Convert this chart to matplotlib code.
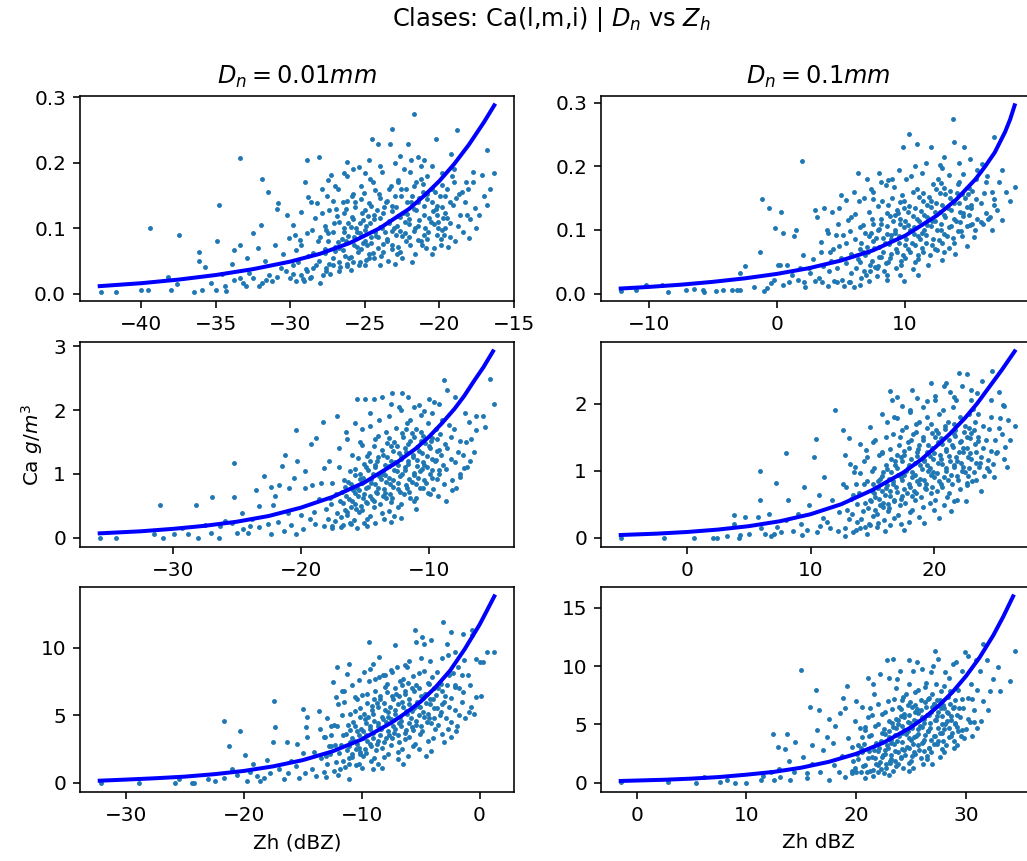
import numpy as np
import matplotlib
matplotlib.use("Agg")
import matplotlib.pyplot as plt

# ---- scatter points (Zh dBZ, Ca g/m3) ----
pts_a = [
    (-29.8, 0.030), (-29.5, 0.048), (-29.65, 0.066), (-29.35, 0.082),
    (-29.15, 0.022), (-28.95, 0.038), (-28.8, 0.058), (-29.25, 0.074), (-28.85, 0.092),
    (-28.6, 0.026), (-28.3, 0.044), (-28.45, 0.062), (-28.15, 0.080), (-28.55, 0.098), (-28.35, 0.116),
    (-27.6, 0.034), (-28.05, 0.050), (-27.65, 0.068), (-28.0, 0.086), (-27.7, 0.104), (-27.85, 0.124), (-27.55, 0.150),
    (-27.35, 0.030), (-27.15, 0.054), (-27.0, 0.072), (-27.45, 0.092), (-27.05, 0.108), (-27.4, 0.128), (-27.1, 0.142),
    (-26.65, 0.040), (-26.35, 0.058), (-26.75, 0.070), (-26.55, 0.084), (-26.4, 0.100), (-26.85, 0.118), (-26.45, 0.140), (-26.8, 0.160),
    (-25.9, 0.036), (-26.05, 0.054), (-25.75, 0.074), (-26.15, 0.088), (-25.95, 0.102), (-25.8, 0.114), (-26.25, 0.130), (-25.85, 0.150), (-26.2, 0.180),
    (-25.3, 0.048), (-25.45, 0.064), (-25.15, 0.078), (-25.55, 0.094), (-25.35, 0.108), (-25.2, 0.124), (-25.65, 0.140), (-25.25, 0.165),
    (-25.0, 0.044), (-24.7, 0.060), (-24.85, 0.074), (-24.55, 0.086), (-24.95, 0.098), (-24.75, 0.118), (-24.6, 0.134), (-25.05, 0.154), (-24.65, 0.176),
    (-24.4, 0.054), (-24.1, 0.070), (-24.25, 0.088), (-23.95, 0.102), (-24.35, 0.114), (-24.15, 0.128), (-24.0, 0.146), (-24.45, 0.170),
    (-23.45, 0.050), (-23.8, 0.064), (-23.5, 0.080), (-23.65, 0.094), (-23.35, 0.108), (-23.75, 0.124), (-23.55, 0.140), (-23.4, 0.160), (-23.85, 0.186),
    (-22.85, 0.060), (-23.2, 0.074), (-22.9, 0.090), (-23.05, 0.100), (-22.75, 0.118), (-23.15, 0.134), (-22.95, 0.150), (-22.8, 0.174),
    (-22.65, 0.064), (-22.25, 0.080), (-22.6, 0.096), (-22.3, 0.110), (-22.45, 0.124), (-22.15, 0.140), (-22.55, 0.160), (-22.35, 0.190),
    (-21.6, 0.060), (-22.05, 0.086), (-21.65, 0.100), (-22.0, 0.114), (-21.7, 0.130), (-21.85, 0.150), (-21.55, 0.170), (-21.95, 0.186),
    (-21.15, 0.074), (-21.0, 0.090), (-21.45, 0.104), (-21.05, 0.120), (-21.4, 0.140), (-21.1, 0.156), (-21.25, 0.176),
    (-20.35, 0.070), (-20.75, 0.094), (-20.55, 0.110), (-20.4, 0.126), (-20.85, 0.144), (-20.45, 0.160), (-20.8, 0.180),
    (-19.9, 0.084), (-20.05, 0.100), (-19.75, 0.116), (-20.15, 0.134), (-19.95, 0.150), (-19.8, 0.166),
    (-19.65, 0.090), (-19.25, 0.108), (-19.6, 0.124), (-19.3, 0.140), (-19.45, 0.160), (-19.15, 0.180),
    (-18.95, 0.080), (-18.75, 0.104), (-18.6, 0.120), (-19.05, 0.136), (-18.65, 0.152), (-19.0, 0.170),
    (-18.1, 0.120), (-18.3, 0.140), (-18.05, 0.160),
    (-39.4, 0.100), (-37.5, 0.090), (-33.4, 0.207), (-31.9, 0.175), (-31.5, 0.155), (-34.8, 0.136),
    (-34.9, 0.080), (-36.1, 0.064), (-36.1, 0.050), (-33.8, 0.067), (-33.4, 0.075), (-32.0, 0.105),
    (-32.5, 0.092), (-30.8, 0.138), (-30.9, 0.130), (-30.2, 0.120), (-29.8, 0.105), (-29.7, 0.090),
    (-29.0, 0.171), (-28.9, 0.204), (-28.8, 0.148), (-28.1, 0.209), (-28.2, 0.138), (-27.5, 0.174),
    (-27.3, 0.181), (-26.2, 0.201), (-25.4, 0.194), (-24.7, 0.204), (-24.5, 0.237), (-24.1, 0.229),
    (-23.3, 0.229), (-23.2, 0.252), (-22.1, 0.229), (-21.7, 0.275), (-21.4, 0.209), (-21.0, 0.204),
    (-20.2, 0.237), (-19.2, 0.214), (-18.8, 0.250), (-17.7, 0.171), (-16.8, 0.219), (-16.3, 0.185),
    (-16.8, 0.136), (-17.6, 0.131), (-17.9, 0.114), (-17.1, 0.181), (-17.7, 0.186), (-18.2, 0.171),
    (-18.5, 0.156), (-18.9, 0.146), (-19.4, 0.072), (-19.3, 0.087), (-19.6, 0.100), (-20.1, 0.110),
    (-20.2, 0.130), (-20.9, 0.070), (-21.2, 0.080),
    (-42.7, 0.003), (-41.7, 0.003), (-40.0, 0.005), (-39.55, 0.005), (-38.2, 0.026), (-38.0, 0.005),
    (-37.6, 0.014), (-36.5, 0.003), (-35.9, 0.005), (-35.3, 0.016), (-35.0, 0.005), (-34.4, 0.011),
    (-34.3, 0.004), (-33.8, 0.021), (-33.4, 0.024), (-33.2, 0.016), (-33.0, 0.011), (-32.8, 0.031),
    (-32.5, 0.024), (-32.1, 0.011), (-31.9, 0.016), (-31.6, 0.021), (-31.4, 0.029), (-31.2, 0.019),
    (-30.9, 0.026), (-30.6, 0.039), (-30.3, 0.034), (-30.0, 0.024), (-29.8, 0.044), (-29.6, 0.019),
    (-29.3, 0.029), (-29.1, 0.019), (-28.9, 0.034), (-28.7, 0.024), (-28.5, 0.039), (-28.0, 0.016),
    (-27.8, 0.029), (-27.6, 0.039), (-27.1, 0.044), (-26.7, 0.034), (-26.2, 0.042), (-25.8, 0.049),
    (-25.4, 0.044), (-24.7, 0.054), (-24.0, 0.044),
    (-23.0, 0.045), (-22.5, 0.055), (-21.8, 0.048), (-20.5, 0.060), (-19.9, 0.075), (-18.4, 0.095),
    (-17.5, 0.100), (-17.0, 0.150), (-16.6, 0.160), (-17.3, 0.120), (-18.0, 0.085),
    (-35.7, 0.040), (-34.6, 0.030), (-33.9, 0.045), (-32.9, 0.055), (-32.2, 0.070), (-31.7, 0.050),
    (-31.0, 0.075), (-30.5, 0.060), (-30.1, 0.085), (-29.3, 0.125), (-28.6, 0.140), (-27.9, 0.160),
    (-27.0, 0.165), (-26.4, 0.185), (-25.8, 0.190), (-25.0, 0.185), (-24.0, 0.195), (-23.0, 0.200),
    (-22.6, 0.210), (-21.9, 0.205), (-21.2, 0.195), (-20.5, 0.195), (-19.8, 0.185), (-19.0, 0.190),
]
dense_a = [
    (-27.38, 0.045), (-27.68, 0.062), (-27.45, 0.080), (-27.58, 0.097),
    (-26.7, 0.048), (-27.02, 0.065), (-26.8, 0.079), (-27.12, 0.094), (-26.74, 0.110), (-26.94, 0.130),
    (-26.18, 0.046), (-26.48, 0.066), (-26.25, 0.081), (-26.38, 0.095), (-26.1, 0.108), (-26.42, 0.123), (-26.2, 0.142),
    (-25.92, 0.056), (-25.54, 0.071), (-25.74, 0.086), (-25.58, 0.100), (-25.88, 0.117), (-25.65, 0.132), (-25.78, 0.152),
    (-24.9, 0.052), (-25.22, 0.068), (-25.0, 0.081), (-25.32, 0.092), (-24.94, 0.104), (-25.14, 0.112), (-24.98, 0.128), (-25.28, 0.145),
    (-24.45, 0.062), (-24.58, 0.078), (-24.3, 0.095), (-24.62, 0.108), (-24.4, 0.121), (-24.72, 0.138), (-24.34, 0.158),
    (-23.94, 0.058), (-23.78, 0.076), (-24.08, 0.086), (-23.85, 0.100), (-23.98, 0.116), (-23.7, 0.132), (-24.02, 0.152),
    (-23.2, 0.068), (-23.52, 0.084), (-23.14, 0.096), (-23.34, 0.111), (-23.18, 0.127), (-23.48, 0.142), (-23.25, 0.165),
    (-22.78, 0.072), (-22.5, 0.088), (-22.82, 0.104), (-22.6, 0.117), (-22.92, 0.132), (-22.54, 0.150), (-22.74, 0.170),
    (-21.98, 0.074), (-22.28, 0.093), (-22.05, 0.107), (-22.18, 0.122), (-21.9, 0.140), (-22.22, 0.160),
    (-21.4, 0.082), (-21.72, 0.096), (-21.34, 0.112), (-21.54, 0.128), (-21.38, 0.146), (-21.68, 0.164),
    (-20.85, 0.083), (-20.98, 0.100), (-20.7, 0.116), (-21.02, 0.134), (-20.8, 0.152), (-21.12, 0.168),
    (-20.14, 0.090), (-20.34, 0.106), (-20.18, 0.120), (-20.48, 0.140), (-20.25, 0.156),
    (-19.78, 0.098), (-19.5, 0.116), (-19.82, 0.132), (-19.6, 0.150),
]

pts_b = [
    (3.3, 0.025), (3.6, 0.045), (3.45, 0.065),
    (4.45, 0.020), (4.05, 0.035), (4.25, 0.052), (4.4, 0.070), (3.95, 0.095),
    (5.05, 0.022), (4.7, 0.040), (5.0, 0.056), (4.85, 0.075), (5.15, 0.092), (4.75, 0.110),
    (5.65, 0.018), (5.8, 0.032), (5.35, 0.048), (5.75, 0.062), (5.4, 0.080), (5.7, 0.098), (5.55, 0.115),
    (6.55, 0.025), (6.15, 0.040), (6.35, 0.055), (6.5, 0.070), (6.05, 0.086), (6.45, 0.104), (6.1, 0.125), (6.4, 0.145),
    (6.95, 0.030), (7.25, 0.045), (6.85, 0.060), (7.05, 0.074), (7.2, 0.090), (6.75, 0.108), (7.15, 0.128), (6.8, 0.150),
    (7.8, 0.028), (7.65, 0.042), (7.95, 0.058), (7.55, 0.072), (7.75, 0.088), (7.9, 0.100), (7.45, 0.118), (7.85, 0.138), (7.5, 0.160),
    (8.35, 0.035), (8.65, 0.050), (8.25, 0.066), (8.45, 0.080), (8.6, 0.094), (8.15, 0.110), (8.55, 0.126), (8.2, 0.146), (8.5, 0.170),
    (9.3, 0.040), (8.85, 0.056), (9.25, 0.070), (8.9, 0.086), (9.2, 0.100), (9.05, 0.114), (9.35, 0.132), (8.95, 0.150), (9.15, 0.168),
    (9.65, 0.045), (9.85, 0.060), (10.0, 0.076), (9.55, 0.090), (9.95, 0.104), (9.6, 0.118), (9.9, 0.134), (9.75, 0.155), (10.05, 0.180),
    (10.75, 0.050), (10.35, 0.066), (10.55, 0.080), (10.7, 0.094), (10.25, 0.108), (10.65, 0.122), (10.3, 0.138), (10.6, 0.160), (10.45, 0.185),
    (11.0, 0.055), (11.3, 0.072), (11.15, 0.086), (11.45, 0.100), (11.05, 0.114), (11.25, 0.130), (11.4, 0.146), (10.95, 0.164), (11.35, 0.190),
    (11.95, 0.060), (12.1, 0.076), (11.65, 0.092), (12.05, 0.106), (11.7, 0.120), (12.0, 0.136), (11.85, 0.152), (12.15, 0.172),
    (12.45, 0.068), (12.65, 0.084), (12.8, 0.100), (12.35, 0.114), (12.75, 0.128), (12.4, 0.142), (12.7, 0.158), (12.55, 0.180), (12.85, 0.198),
    (13.4, 0.072), (13.25, 0.090), (13.55, 0.106), (13.15, 0.120), (13.35, 0.134), (13.5, 0.150), (13.05, 0.166), (13.45, 0.186),
    (13.8, 0.080), (14.1, 0.098), (13.95, 0.114), (14.25, 0.128), (13.85, 0.142), (14.05, 0.158), (14.2, 0.176),
    (14.45, 0.090), (14.85, 0.106), (14.5, 0.122), (14.8, 0.136), (14.65, 0.150), (14.95, 0.166), (14.55, 0.188),
    (15.45, 0.100), (15.6, 0.118), (15.15, 0.134), (15.55, 0.148), (15.2, 0.162), (15.5, 0.180),
    (16.05, 0.110), (16.35, 0.126), (15.95, 0.142), (16.15, 0.158), (16.3, 0.176),
    (16.6, 0.120), (16.9, 0.140), (16.75, 0.160),
    (-12.2, 0.004), (-10.2, 0.013), (-9.0, 0.013), (-8.5, 0.003), (-7.1, 0.006), (-5.8, 0.006),
    (-5.7, 0.003), (-4.2, 0.006), (-3.5, 0.006), (-3.1, 0.006), (-2.9, 0.006), (-2.9, 0.032),
    (-2.5, 0.043), (-1.35, 0.066), (-1.2, 0.149), (-0.65, 0.135), (-0.13, 0.103), (0.3, 0.129),
    (0.5, 0.096), (0.05, 0.045), (0.26, 0.045), (0.8, 0.045), (-0.8, 0.009), (-0.5, 0.017),
    (-0.26, 0.022), (-1.0, 0.004), (0.5, 0.014), (0.9, 0.019), (1.3, 0.090), (1.5, 0.100),
    (1.95, 0.209), (1.2, 0.030), (1.6, 0.022), (2.1, 0.019), (2.2, 0.011), (2.6, 0.032),
    (3.0, 0.131), (3.1, 0.121), (3.4, 0.081), (3.5, 0.019), (3.6, 0.043), (3.7, 0.134),
    (4.1, 0.066), (4.3, 0.129), (4.6, 0.092), (5.0, 0.155), (5.4, 0.147), (5.8, 0.121),
    (6.3, 0.190), (7.0, 0.180), (7.5, 0.149), (8.1, 0.175), (8.7, 0.178), (9.0, 0.180),
    (9.2, 0.123), (9.8, 0.230), (10.3, 0.251), (10.9, 0.235), (12.0, 0.230), (12.7, 0.202),
    (13.8, 0.239), (13.7, 0.274), (14.6, 0.230), (15.1, 0.212), (16.0, 0.204), (16.9, 0.246),
    (17.6, 0.194), (18.6, 0.168), (16.9, 0.149), (17.2, 0.132), (16.5, 0.117), (15.4, 0.089),
    (15.1, 0.108), (15.9, 0.113), (12.9, 0.053), (13.0, 0.066), (8.6, 0.022), (8.6, 0.030),
    (7.8, 0.040), (6.5, 0.013), (5.7, 0.019), (4.7, 0.019),
    (2.8, 0.055), (2.0, 0.060), (3.9, 0.100), (4.8, 0.135), (6.0, 0.160), (7.3, 0.165),
    (8.0, 0.190), (9.5, 0.195), (10.8, 0.200), (11.6, 0.205), (13.0, 0.215), (14.2, 0.205),
    (15.6, 0.195), (16.4, 0.185), (17.3, 0.175), (17.9, 0.160), (18.2, 0.145), (17.6, 0.115),
    (16.8, 0.100), (14.8, 0.075), (13.9, 0.062), (11.8, 0.045), (10.6, 0.038), (9.6, 0.030),
    (9.9, 0.020), (11.0, 0.030), (7.2, 0.020), (6.0, 0.010), (5.2, 0.012), (4.0, 0.012),
    (3.0, 0.020), (2.5, 0.040), (1.8, 0.040), (-1.8, 0.010), (-4.8, 0.004), (-6.5, 0.008),
    (-11.0, 0.006),
]
dense_b = [
    (6.77, 0.035), (6.47, 0.050), (6.7, 0.066), (6.57, 0.080), (6.85, 0.096),
    (7.23, 0.036), (7.45, 0.052), (7.13, 0.066), (7.51, 0.082), (7.31, 0.095), (7.47, 0.110),
    (7.87, 0.044), (8.1, 0.058), (7.97, 0.074), (8.25, 0.088), (7.93, 0.102), (8.15, 0.118),
    (8.53, 0.048), (8.91, 0.062), (8.71, 0.078), (8.87, 0.092), (8.57, 0.106), (8.8, 0.122), (8.67, 0.140),
    (9.65, 0.052), (9.33, 0.066), (9.55, 0.080), (9.23, 0.096), (9.61, 0.110), (9.41, 0.126), (9.57, 0.144),
    (9.97, 0.056), (10.2, 0.070), (10.07, 0.086), (10.35, 0.100), (10.03, 0.114), (10.25, 0.128), (9.93, 0.146),
    (11.01, 0.060), (10.81, 0.076), (10.97, 0.090), (10.67, 0.104), (10.9, 0.118), (10.77, 0.134), (11.05, 0.152),
    (11.43, 0.066), (11.65, 0.080), (11.33, 0.095), (11.71, 0.108), (11.51, 0.124), (11.67, 0.140), (11.37, 0.158),
    (12.3, 0.070), (12.17, 0.086), (12.45, 0.100), (12.13, 0.114), (12.35, 0.128), (12.03, 0.146), (12.41, 0.164),
    (12.91, 0.080), (13.07, 0.094), (12.77, 0.110), (13.0, 0.124), (12.87, 0.140), (13.15, 0.156), (12.83, 0.174),
    (13.75, 0.088), (13.43, 0.104), (13.81, 0.118), (13.61, 0.132), (13.77, 0.146), (13.47, 0.162),
    (14.4, 0.098), (14.27, 0.112), (14.55, 0.126), (14.23, 0.142), (14.45, 0.156), (14.13, 0.172),
    (15.21, 0.110), (15.01, 0.124), (15.17, 0.140), (14.87, 0.156),
]

pts_c = [
    (-18.2, 0.18), (-17.9, 0.30), (-18.05, 0.45), (-17.75, 0.62),
    (-17.55, 0.15), (-17.35, 0.26), (-17.2, 0.38), (-17.65, 0.52), (-17.25, 0.68), (-17.6, 0.85),
    (-16.7, 0.20), (-16.85, 0.32), (-16.55, 0.44), (-16.95, 0.58), (-16.75, 0.72), (-16.6, 0.90), (-17.05, 1.10),
    (-16.05, 0.22), (-16.4, 0.35), (-16.1, 0.48), (-16.25, 0.60), (-15.95, 0.74), (-16.35, 0.88), (-16.15, 1.05), (-16.0, 1.30),
    (-15.85, 0.28), (-15.45, 0.40), (-15.8, 0.52), (-15.5, 0.65), (-15.65, 0.78), (-15.35, 0.92), (-15.75, 1.08), (-15.55, 1.25), (-15.4, 1.50),
    (-14.85, 0.30), (-15.2, 0.44), (-14.9, 0.56), (-15.05, 0.68), (-14.75, 0.80), (-15.15, 0.94), (-14.95, 1.10), (-14.8, 1.28), (-15.25, 1.45),
    (-14.6, 0.34), (-14.3, 0.48), (-14.45, 0.60), (-14.15, 0.72), (-14.55, 0.86), (-14.35, 1.00), (-14.2, 1.14), (-14.65, 1.32), (-14.25, 1.55), (-14.6, 1.75),
    (-13.7, 0.38), (-13.85, 0.52), (-13.55, 0.66), (-13.95, 0.78), (-13.75, 0.92), (-13.6, 1.05), (-14.05, 1.20), (-13.65, 1.38), (-14.0, 1.60),
    (-13.15, 0.42), (-13.0, 0.56), (-13.45, 0.70), (-13.05, 0.84), (-13.4, 0.98), (-13.1, 1.12), (-13.25, 1.26), (-12.95, 1.44), (-13.35, 1.65), (-13.15, 1.90),
    (-12.4, 0.48), (-12.85, 0.62), (-12.45, 0.76), (-12.8, 0.90), (-12.5, 1.04), (-12.65, 1.18), (-12.35, 1.32), (-12.75, 1.50), (-12.55, 1.72),
    (-12.15, 0.52), (-11.95, 0.68), (-11.8, 0.82), (-12.25, 0.96), (-11.85, 1.10), (-12.2, 1.24), (-11.9, 1.40), (-12.05, 1.58), (-11.75, 1.80), (-12.15, 2.00),
    (-11.15, 0.58), (-11.55, 0.72), (-11.35, 0.88), (-11.2, 1.02), (-11.65, 1.16), (-11.25, 1.30), (-11.6, 1.46), (-11.3, 1.64), (-11.45, 1.85),
    (-11.0, 0.62), (-10.7, 0.78), (-10.85, 0.94), (-10.55, 1.08), (-10.95, 1.22), (-10.75, 1.36), (-10.6, 1.52), (-11.05, 1.70), (-10.65, 1.92),
    (-10.1, 0.70), (-10.25, 0.86), (-9.95, 1.00), (-10.35, 1.14), (-10.15, 1.28), (-10.0, 1.44), (-10.45, 1.60), (-10.05, 1.80),
    (-9.65, 0.76), (-9.35, 0.92), (-9.75, 1.06), (-9.55, 1.20), (-9.4, 1.36), (-9.85, 1.52), (-9.45, 1.70), (-9.8, 1.95),
    (-8.85, 0.84), (-9.2, 1.00), (-8.9, 1.14), (-9.05, 1.30), (-8.75, 1.46), (-9.15, 1.62), (-8.95, 1.84),
    (-8.2, 0.90), (-8.65, 1.08), (-8.25, 1.24), (-8.6, 1.40), (-8.3, 1.58), (-8.45, 1.76),
    (-7.55, 1.00), (-7.95, 1.18), (-7.75, 1.34), (-7.6, 1.52), (-8.05, 1.70),
    (-7.05, 1.10), (-7.35, 1.30), (-7.1, 1.50),
    (-35.7, 0.0), (-34.4, 0.0), (-31.5, 0.05), (-31.0, 0.51), (-30.8, 0.0), (-29.9, 0.05),
    (-28.8, 0.05), (-28.2, 0.51), (-28.0, 0.0), (-27.0, 0.08), (-26.9, 0.64), (-26.4, 0.0),
    (-26.3, 0.18), (-25.9, 0.26), (-25.4, 0.23), (-25.2, 0.64), (-25.2, 1.17), (-25.0, 0.08),
    (-24.6, 0.39), (-24.5, 0.13), (-24.1, 0.08), (-24.0, 0.18), (-23.3, 0.16), (-23.3, 0.49),
    (-22.9, 0.96), (-22.6, 0.21), (-22.3, 0.05), (-22.2, 0.51), (-22.3, 0.80), (-21.7, 0.83),
    (-21.5, 1.13), (-21.3, 0.10), (-21.2, 1.30), (-21.0, 0.39), (-20.9, 0.78), (-20.5, 0.93),
    (-20.4, 0.05), (-20.3, 1.20), (-20.4, 1.69), (-19.8, 0.13), (-19.7, 0.78), (-19.7, 1.04),
    (-19.3, 0.29), (-19.2, 1.46), (-19.1, 0.83), (-18.8, 1.56), (-18.3, 1.81), (-18.2, 1.09),
    (-17.2, 1.90), (-16.5, 1.66), (-15.6, 2.17), (-15.0, 2.18), (-14.3, 2.18), (-13.7, 2.20),
    (-12.9, 2.26), (-12.1, 2.26), (-11.6, 2.20), (-10.8, 2.08), (-10.0, 2.18), (-9.2, 2.10),
    (-8.8, 2.47), (-8.6, 2.31), (-8.0, 2.20), (-6.9, 1.81), (-6.3, 1.90), (-5.8, 1.90),
    (-5.6, 1.74), (-5.2, 2.49), (-4.9, 2.10), (-6.3, 1.69), (-7.3, 1.09), (-7.9, 0.78),
    (-8.7, 0.57), (-9.9, 0.68), (-10.5, 0.78), (-11.5, 0.62), (-12.2, 0.31), (-12.7, 0.34),
    (-13.5, 0.29), (-14.2, 0.23), (-15.1, 0.23), (-16.2, 0.23), (-16.9, 0.16), (-17.6, 0.18),
    (-19.0, 0.40), (-18.6, 0.60), (-18.9, 0.22), (-18.4, 0.85), (-17.8, 1.20), (-17.0, 1.40),
    (-16.4, 1.55), (-15.8, 1.80), (-15.2, 1.70), (-14.6, 1.95), (-13.9, 1.85), (-13.0, 2.10),
    (-12.3, 2.05), (-11.2, 2.05), (-10.4, 1.98), (-9.6, 2.12), (-7.2, 1.95), (-6.7, 1.55),
    (-6.5, 1.35), (-6.8, 1.20), (-7.6, 0.95), (-8.2, 0.75), (-9.3, 0.65), (-11.0, 0.45),
    (-13.0, 0.25), (-14.8, 0.18), (-15.6, 0.15), (-23.8, 0.30), (-21.8, 0.25), (-20.8, 0.20),
    (-20.0, 0.35), (-22.0, 0.65), (-23.5, 0.75), (-27.5, 0.20), (-29.3, 0.15),
]
dense_c = [
    (-16.38, 0.40), (-16.68, 0.55), (-16.45, 0.66), (-16.58, 0.80),
    (-15.7, 0.45), (-16.02, 0.58), (-15.8, 0.70), (-16.12, 0.84), (-15.74, 0.98),
    (-15.34, 0.50), (-15.18, 0.62), (-15.48, 0.74), (-15.25, 0.86), (-15.38, 1.00), (-15.1, 1.16),
    (-14.82, 0.54), (-14.6, 0.66), (-14.92, 0.78), (-14.54, 0.92), (-14.74, 1.06), (-14.58, 1.20),
    (-14.28, 0.58), (-14.05, 0.70), (-14.18, 0.84), (-13.9, 0.96), (-14.22, 1.10), (-14.0, 1.26), (-14.32, 1.44),
    (-13.34, 0.62), (-13.54, 0.76), (-13.38, 0.88), (-13.68, 1.00), (-13.45, 1.14), (-13.58, 1.30), (-13.3, 1.48),
    (-13.02, 0.68), (-12.8, 0.80), (-13.12, 0.94), (-12.74, 1.06), (-12.94, 1.20), (-12.78, 1.36), (-13.08, 1.56),
    (-12.25, 0.72), (-12.38, 0.86), (-12.1, 1.00), (-12.42, 1.14), (-12.2, 1.28), (-12.52, 1.44), (-12.14, 1.64),
    (-11.74, 0.78), (-11.58, 0.92), (-11.88, 1.06), (-11.65, 1.20), (-11.78, 1.34), (-11.5, 1.52), (-11.82, 1.70),
    (-10.98, 0.84), (-11.2, 0.98), (-10.9, 1.12), (-11.22, 1.26), (-10.94, 1.42), (-11.14, 1.58),
    (-10.38, 0.90), (-10.68, 1.04), (-10.45, 1.18), (-10.58, 1.32), (-10.3, 1.48), (-10.62, 1.66),
    (-9.8, 0.94), (-10.12, 1.10), (-9.74, 1.24), (-9.94, 1.40), (-9.78, 1.56),
    (-9.18, 1.06), (-9.48, 1.22), (-9.25, 1.38), (-9.38, 1.54),
]

pts_d = [
    (12.8, 0.15), (13.1, 0.28), (12.95, 0.42), (13.25, 0.58), (12.85, 0.75),
    (13.65, 0.12), (13.8, 0.24), (13.35, 0.36), (13.75, 0.50), (13.4, 0.64), (13.7, 0.80), (13.55, 0.98),
    (14.45, 0.16), (14.05, 0.28), (14.25, 0.40), (14.4, 0.52), (13.95, 0.66), (14.35, 0.80), (14.0, 0.96), (14.3, 1.15),
    (14.75, 0.20), (15.05, 0.32), (14.65, 0.44), (14.85, 0.56), (15.0, 0.70), (14.55, 0.84), (14.95, 1.00), (14.6, 1.20),
    (15.5, 0.22), (15.35, 0.35), (15.65, 0.48), (15.25, 0.60), (15.45, 0.74), (15.6, 0.88), (15.15, 1.04), (15.55, 1.24), (15.2, 1.45),
    (15.95, 0.26), (16.25, 0.40), (15.85, 0.52), (16.05, 0.64), (16.2, 0.78), (15.75, 0.92), (16.15, 1.08), (15.8, 1.26), (16.1, 1.50),
    (16.8, 0.30), (16.35, 0.44), (16.75, 0.56), (16.4, 0.70), (16.7, 0.84), (16.55, 0.98), (16.85, 1.14), (16.45, 1.32), (16.65, 1.55), (16.8, 1.80),
    (17.05, 0.34), (17.25, 0.48), (17.4, 0.62), (16.95, 0.76), (17.35, 0.90), (17.0, 1.04), (17.3, 1.20), (17.15, 1.38), (17.45, 1.60),
    (18.05, 0.38), (17.65, 0.52), (17.85, 0.66), (18.0, 0.80), (17.55, 0.94), (17.95, 1.08), (17.6, 1.24), (17.9, 1.42), (17.75, 1.65), (18.05, 1.88),
    (18.2, 0.42), (18.5, 0.56), (18.35, 0.70), (18.65, 0.84), (18.25, 0.98), (18.45, 1.12), (18.6, 1.28), (18.15, 1.46), (18.55, 1.70),
    (19.1, 0.46), (18.95, 0.60), (19.25, 0.74), (18.85, 0.88), (19.05, 1.02), (19.2, 1.16), (18.75, 1.32), (19.15, 1.50), (18.8, 1.72), (19.1, 1.95),
    (19.65, 0.52), (19.8, 0.66), (19.35, 0.80), (19.75, 0.94), (19.4, 1.08), (19.7, 1.22), (19.55, 1.38), (19.85, 1.56), (19.45, 1.80),
    (20.05, 0.56), (20.25, 0.70), (20.4, 0.84), (19.95, 0.98), (20.35, 1.12), (20.0, 1.26), (20.3, 1.42), (20.15, 1.60), (20.45, 1.85), (20.05, 2.05),
    (21.05, 0.60), (20.65, 0.76), (20.85, 0.90), (21.0, 1.04), (20.55, 1.18), (20.95, 1.32), (20.6, 1.48), (20.9, 1.66), (20.75, 1.90),
    (21.2, 0.66), (21.5, 0.80), (21.35, 0.94), (21.65, 1.08), (21.25, 1.22), (21.45, 1.38), (21.6, 1.54), (21.15, 1.72), (21.55, 1.95),
    (22.1, 0.72), (21.95, 0.86), (22.25, 1.00), (21.85, 1.14), (22.05, 1.28), (22.2, 1.44), (21.75, 1.60), (22.15, 1.80), (21.8, 2.05),
    (22.65, 0.78), (22.8, 0.92), (22.35, 1.06), (22.75, 1.20), (22.4, 1.34), (22.7, 1.50), (22.55, 1.66), (22.85, 1.85),
    (23.05, 0.84), (23.25, 0.98), (23.4, 1.12), (22.95, 1.26), (23.35, 1.40), (23.0, 1.56), (23.3, 1.72), (23.15, 1.92),
    (24.05, 0.92), (23.65, 1.06), (23.85, 1.20), (24.0, 1.34), (23.55, 1.50), (23.95, 1.66), (23.6, 1.85),
    (24.5, 1.00), (24.35, 1.16), (24.65, 1.30), (24.25, 1.46), (24.45, 1.62), (24.6, 1.80),
    (24.8, 1.10), (25.1, 1.28), (24.95, 1.46), (25.25, 1.64),
    (-5.4, 0.0), (-1.9, 0.0), (0.54, 0.0), (2.1, 0.0), (2.4, 0.0), (3.8, 0.34),
    (3.8, 0.21), (4.7, 0.31), (4.2, 0.0), (4.3, 0.04), (5.7, 0.31), (5.9, 0.99),
    (5.9, 0.56), (6.6, 0.36), (6.3, 0.05), (6.8, 0.03), (7.0, 0.06), (7.2, 0.81),
    (7.3, 0.16), (7.6, 0.09), (8.0, 1.27), (8.2, 0.56), (8.0, 0.26), (9.2, 0.20),
    (9.3, 0.04), (9.5, 0.76), (9.7, 0.11), (9.9, 0.49), (10.3, 1.21), (10.4, 1.47),
    (10.5, 0.09), (10.7, 0.64), (11.1, 0.91), (11.3, 0.24), (11.6, 0.14), (11.98, 1.90),
    (11.75, 0.56), (12.3, 0.39), (12.6, 1.61), (12.8, 1.24), (13.1, 1.49), (13.4, 0.09),
    (13.6, 1.06), (14.0, 0.14), (14.5, 1.31), (15.1, 1.43), (15.8, 1.28), (16.2, 1.73),
    (16.4, 2.19), (16.6, 2.06), (17.0, 1.78), (17.4, 1.96), (18.1, 1.91), (18.6, 2.09),
    (19.4, 2.04), (20.1, 2.11), (20.8, 2.26), (21.0, 2.31), (21.3, 2.18), (22.0, 2.46),
    (22.7, 2.44), (22.3, 2.26), (23.0, 2.21), (23.5, 2.16), (23.9, 2.33), (24.7, 2.48),
    (25.3, 2.18), (25.7, 1.96), (25.6, 1.98), (26.0, 1.76), (25.4, 1.78), (26.6, 1.66),
    (25.8, 1.36), (25.7, 1.18), (25.0, 1.26), (24.3, 1.04), (23.4, 0.86), (22.7, 0.81),
    (21.9, 0.56), (21.6, 0.54), (20.8, 0.49), (20.0, 0.41), (18.8, 0.31), (18.0, 0.24),
    (17.3, 0.21), (16.4, 0.19), (15.4, 0.16), (14.8, 0.19),
    (12.2, 0.10), (11.0, 0.30), (12.6, 0.80), (13.2, 1.10), (14.0, 1.40), (14.8, 1.65),
    (15.8, 1.85), (17.0, 2.10), (18.2, 2.20), (19.8, 2.30), (21.6, 2.10), (23.0, 2.05),
    (24.6, 2.05), (25.5, 1.55), (26.2, 1.45), (25.9, 1.05), (24.9, 0.90), (23.8, 0.70),
    (22.6, 0.55), (21.4, 0.40), (20.4, 0.30), (19.2, 0.22), (17.6, 0.12), (16.0, 0.10),
    (14.6, 0.05), (12.8, 0.02), (10.8, 0.18), (9.0, 0.35), (8.6, 0.10), (6.0, 0.15),
    (5.0, 0.05), (3.2, 0.02),
]
dense_d = [
    (15.22, 0.42), (14.92, 0.54), (15.15, 0.66), (15.02, 0.80),
    (15.9, 0.46), (15.58, 0.58), (15.8, 0.70), (15.48, 0.84), (15.86, 0.98),
    (16.26, 0.50), (16.42, 0.62), (16.12, 0.74), (16.35, 0.88), (16.22, 1.02), (16.5, 1.18),
    (16.78, 0.54), (17.0, 0.68), (16.68, 0.80), (17.06, 0.94), (16.86, 1.08), (17.02, 1.24),
    (17.32, 0.58), (17.55, 0.72), (17.42, 0.86), (17.7, 1.00), (17.38, 1.14), (17.6, 1.30), (17.28, 1.50),
    (18.26, 0.62), (18.06, 0.76), (18.22, 0.90), (17.92, 1.04), (18.15, 1.18), (18.02, 1.34), (18.3, 1.54),
    (18.58, 0.66), (18.8, 0.80), (18.48, 0.94), (18.86, 1.08), (18.66, 1.22), (18.82, 1.38), (18.52, 1.58),
    (19.35, 0.72), (19.22, 0.86), (19.5, 1.00), (19.18, 1.14), (19.4, 1.28), (19.08, 1.46), (19.46, 1.64),
    (19.86, 0.76), (20.02, 0.90), (19.72, 1.04), (19.95, 1.18), (19.82, 1.34), (20.1, 1.50), (19.78, 1.70),
    (20.6, 0.80), (20.28, 0.96), (20.66, 1.10), (20.46, 1.24), (20.62, 1.40), (20.32, 1.56),
    (21.15, 0.86), (21.02, 1.00), (21.3, 1.14), (20.98, 1.30), (21.2, 1.46), (20.88, 1.62),
    (21.86, 0.92), (21.66, 1.06), (21.82, 1.20), (21.52, 1.36), (21.75, 1.52), (21.62, 1.70),
    (22.5, 0.98), (22.18, 1.12), (22.4, 1.28), (22.08, 1.42), (22.46, 1.58),
    (22.86, 1.04), (23.02, 1.18), (22.72, 1.34), (22.95, 1.48), (22.82, 1.64),
    (23.7, 1.12), (23.38, 1.28), (23.6, 1.44), (23.28, 1.60),
]

pts_e = [
    (-13.2, 0.8), (-12.9, 1.4), (-13.05, 2.0), (-12.75, 2.7), (-13.15, 3.4),
    (-12.35, 0.9), (-12.2, 1.5), (-12.65, 2.1), (-12.25, 2.8), (-12.6, 3.5), (-12.3, 4.3),
    (-11.85, 1.0), (-11.55, 1.6), (-11.95, 2.2), (-11.75, 2.8), (-11.6, 3.5), (-12.05, 4.2), (-11.65, 5.0),
    (-11.4, 1.2), (-11.1, 1.8), (-11.25, 2.4), (-10.95, 3.0), (-11.35, 3.6), (-11.15, 4.3), (-11.0, 5.1), (-11.45, 6.0),
    (-10.45, 1.3), (-10.8, 1.9), (-10.5, 2.5), (-10.65, 3.1), (-10.35, 3.8), (-10.75, 4.5), (-10.55, 5.3), (-10.4, 6.2),
    (-10.25, 1.4), (-9.85, 2.0), (-10.2, 2.6), (-9.9, 3.3), (-10.05, 4.0), (-9.75, 4.7), (-10.15, 5.5), (-9.95, 6.5),
    (-9.2, 1.6), (-9.65, 2.2), (-9.25, 2.9), (-9.6, 3.5), (-9.3, 4.2), (-9.45, 4.9), (-9.15, 5.7), (-9.55, 6.6), (-9.35, 7.5),
    (-8.95, 1.8), (-8.75, 2.4), (-8.6, 3.1), (-9.05, 3.7), (-8.65, 4.4), (-9.0, 5.1), (-8.7, 5.9), (-8.85, 6.8), (-8.55, 7.8),
    (-8.1, 1.9), (-8.25, 2.6), (-7.95, 3.3), (-8.35, 4.0), (-8.15, 4.7), (-8.0, 5.4), (-8.45, 6.2), (-8.05, 7.1),
    (-7.8, 2.1), (-7.5, 2.8), (-7.65, 3.5), (-7.35, 4.2), (-7.75, 4.9), (-7.55, 5.6), (-7.4, 6.4), (-7.85, 7.3), (-7.45, 8.2),
    (-6.95, 2.3), (-6.8, 3.0), (-7.25, 3.7), (-6.85, 4.4), (-7.2, 5.1), (-6.9, 5.8), (-7.05, 6.6), (-6.75, 7.5),
    (-6.55, 2.5), (-6.35, 3.2), (-6.2, 3.9), (-6.65, 4.6), (-6.25, 5.3), (-6.6, 6.0), (-6.3, 6.8), (-6.45, 7.7), (-6.15, 8.6),
    (-5.65, 2.7), (-6.0, 3.4), (-5.7, 4.1), (-5.85, 4.8), (-5.55, 5.5), (-5.95, 6.2), (-5.75, 7.0), (-5.6, 7.9),
    (-5.45, 2.9), (-5.05, 3.6), (-5.4, 4.3), (-5.1, 5.0), (-5.25, 5.7), (-4.95, 6.4), (-5.35, 7.2), (-5.15, 8.1),
    (-4.4, 3.1), (-4.85, 3.8), (-4.45, 4.5), (-4.8, 5.2), (-4.5, 5.9), (-4.65, 6.6), (-4.35, 7.4), (-4.75, 8.3),
    (-3.95, 3.3), (-3.8, 4.0), (-4.25, 4.8), (-3.85, 5.5), (-4.2, 6.2), (-3.9, 7.0), (-4.05, 7.8),
    (-3.15, 3.6), (-3.55, 4.3), (-3.35, 5.0), (-3.2, 5.8), (-3.65, 6.5), (-3.25, 7.3), (-3.6, 8.2),
    (-2.7, 4.0), (-2.85, 4.8), (-2.55, 5.6), (-2.95, 6.4), (-2.75, 7.2), (-2.6, 8.0),
    (-2.45, 4.5), (-2.05, 5.4), (-2.4, 6.3), (-2.1, 7.2), (-2.25, 8.1),
    (-1.7, 5.0), (-1.45, 6.0), (-1.75, 7.0), (-1.5, 8.0),
    (-32.1, 0.0), (-28.9, 0.0), (-25.8, 0.0), (-25.5, 0.25), (-24.4, 0.0), (-24.2, 0.0),
    (-22.4, 0.12), (-21.7, 4.6), (-21.7, 0.37), (-21.2, 2.7), (-20.3, 3.8), (-19.9, 2.06),
    (-19.7, 0.12), (-19.2, 1.36), (-18.9, 0.5), (-18.6, 0.12), (-18.3, 0.37), (-17.8, 0.74),
    (-17.5, 2.98), (-17.4, 6.08), (-17.3, 4.09), (-17.0, 0.99), (-16.6, 0.25), (-16.3, 2.98),
    (-16.2, 0.74), (-15.6, 1.24), (-15.3, 0.37), (-15.0, 5.46), (-15.0, 2.23), (-14.7, 4.09),
    (-14.6, 4.84), (-14.6, 3.35), (-14.2, 0.99), (-13.9, 0.5), (-13.6, 5.33), (-13.4, 1.86),
    (-13.1, 3.35), (-12.6, 2.73), (-12.6, 4.22), (-12.4, 7.44), (-12.2, 6.33), (-12.1, 8.56),
    (-11.7, 6.82), (-11.2, 8.06), (-11.1, 8.81), (-11.1, 0.25), (-10.6, 6.33), (-10.1, 2.11),
    (-9.4, 10.4), (-9.3, 8.43), (-8.9, 7.69), (-8.5, 9.3), (-8.2, 7.94), (-7.5, 8.31),
    (-7.2, 10.17), (-6.3, 8.68), (-5.5, 11.29), (-5.4, 10.42), (-4.9, 10.79), (-4.7, 10.3),
    (-4.1, 10.55), (-3.1, 11.9), (-2.8, 10.3), (-2.7, 9.43), (-2.4, 11.17), (-2.1, 9.68),
    (-1.4, 11.04), (-1.3, 9.06), (-0.6, 11.29), (-0.6, 10.92), (-0.3, 9.18), (0.0, 8.93),
    (0.3, 8.93), (0.6, 9.68), (1.2, 9.68), (0.1, 6.45), (-0.3, 6.33), (-0.5, 5.09),
    (-0.9, 5.21), (-0.7, 5.58), (-1.9, 4.22), (-1.4, 6.7), (-2.1, 7.07), (-2.4, 3.35),
    (-4.1, 2.36), (-5.1, 2.48), (-6.1, 1.98), (-6.9, 1.74), (-8.3, 1.12), (-9.0, 0.99),
    (-10.0, 1.12), (-11.1, 1.36),
    (-15.5, 2.9), (-14.0, 2.3), (-13.5, 4.0), (-12.9, 4.8), (-12.0, 5.8), (-11.5, 6.8),
    (-10.8, 7.2), (-10.2, 7.6), (-9.8, 8.2), (-9.0, 8.8), (-8.0, 8.0), (-7.0, 8.6),
    (-6.0, 9.0), (-5.0, 9.2), (-4.2, 9.0), (-3.2, 9.2), (-1.8, 8.6), (-1.0, 8.0),
    (-0.8, 7.2), (-1.2, 4.8), (-2.0, 3.8), (-3.0, 3.0), (-4.5, 2.0), (-6.5, 1.4),
    (-8.6, 1.4), (-12.0, 0.6), (-13.0, 0.4), (-14.8, 0.7), (-16.0, 1.6), (-18.0, 1.7),
    (-20.6, 0.6), (-23.0, 0.3), (-21.0, 1.0), (-19.5, 0.8),
]
dense_e = [
    (-10.78, 2.1), (-11.08, 2.7), (-10.85, 3.3), (-10.98, 3.9),
    (-10.1, 2.3), (-10.42, 2.9), (-10.2, 3.5), (-10.52, 4.2), (-10.14, 4.9),
    (-9.74, 2.5), (-9.58, 3.1), (-9.88, 3.8), (-9.65, 4.4), (-9.78, 5.1), (-9.5, 5.9),
    (-9.22, 2.7), (-9.0, 3.3), (-9.32, 4.0), (-8.94, 4.6), (-9.14, 5.4), (-8.98, 6.2),
    (-8.68, 2.9), (-8.45, 3.5), (-8.58, 4.2), (-8.3, 4.9), (-8.62, 5.6), (-8.4, 6.4),
    (-8.12, 3.0), (-7.74, 3.8), (-7.94, 4.5), (-7.78, 5.2), (-8.08, 5.9), (-7.85, 6.7),
    (-7.42, 3.3), (-7.2, 4.0), (-7.52, 4.7), (-7.14, 5.4), (-7.34, 6.2), (-7.18, 7.0),
    (-6.88, 3.5), (-6.65, 4.2), (-6.78, 4.9), (-6.5, 5.6), (-6.82, 6.4), (-6.6, 7.2),
    (-6.32, 3.7), (-5.94, 4.4), (-6.14, 5.1), (-5.98, 5.8), (-6.28, 6.6), (-6.05, 7.4),
    (-5.62, 3.9), (-5.4, 4.6), (-5.72, 5.3), (-5.34, 6.0), (-5.54, 6.8),
    (-4.98, 4.2), (-4.7, 4.9), (-5.02, 5.6), (-4.8, 6.3), (-5.12, 7.0),
    (-4.14, 4.4), (-4.34, 5.1), (-4.18, 5.8), (-4.48, 6.6), (-4.25, 7.3),
    (-3.82, 4.8), (-3.6, 5.5), (-3.92, 6.2), (-3.54, 7.0),
    (-3.3, 5.2), (-2.98, 6.0), (-3.2, 6.8),
]

pts_f = [
    (19.6, 0.8), (19.9, 1.3), (19.75, 1.9), (20.05, 2.5), (19.65, 3.1),
    (20.45, 0.9), (20.6, 1.4), (20.15, 2.0), (20.55, 2.6), (20.2, 3.2), (20.5, 3.9), (20.35, 4.7),
    (21.25, 1.0), (20.85, 1.5), (21.05, 2.1), (21.2, 2.7), (20.75, 3.3), (21.15, 4.0), (20.8, 4.8), (21.1, 5.6),
    (21.55, 1.1), (21.85, 1.6), (21.45, 2.2), (21.65, 2.8), (21.8, 3.4), (21.35, 4.1), (21.75, 4.9), (21.4, 5.8),
    (22.3, 1.2), (22.15, 1.8), (22.45, 2.4), (22.05, 3.0), (22.25, 3.6), (22.4, 4.3), (21.95, 5.0), (22.35, 5.9), (22.0, 6.8),
    (22.75, 1.3), (23.05, 1.9), (22.65, 2.5), (22.85, 3.2), (23.0, 3.9), (22.55, 4.6), (22.95, 5.3), (22.6, 6.1), (22.9, 7.0),
    (23.6, 1.4), (23.15, 2.0), (23.55, 2.7), (23.2, 3.4), (23.5, 4.1), (23.35, 4.8), (23.65, 5.5), (23.25, 6.3), (23.45, 7.2), (23.6, 8.1),
    (23.85, 1.6), (24.05, 2.2), (24.2, 2.9), (23.75, 3.6), (24.15, 4.3), (23.8, 5.0), (24.1, 5.7), (23.95, 6.5), (24.25, 7.4),
    (24.85, 1.7), (24.45, 2.4), (24.65, 3.1), (24.8, 3.8), (24.35, 4.5), (24.75, 5.2), (24.4, 5.9), (24.7, 6.7), (24.55, 7.6), (24.85, 8.5),
    (25.0, 1.9), (25.3, 2.6), (25.15, 3.3), (25.45, 4.0), (25.05, 4.7), (25.25, 5.4), (25.4, 6.1), (24.95, 6.9), (25.35, 7.8),
    (25.9, 2.1), (25.75, 2.8), (26.05, 3.5), (25.65, 4.2), (25.85, 4.9), (26.0, 5.6), (25.55, 6.3), (25.95, 7.1), (25.6, 8.0),
    (26.45, 2.3), (26.6, 3.0), (26.15, 3.7), (26.55, 4.4), (26.2, 5.1), (26.5, 5.8), (26.35, 6.5), (26.65, 7.3), (26.25, 8.2),
    (26.85, 2.6), (27.05, 3.3), (27.2, 4.0), (26.75, 4.7), (27.15, 5.4), (26.8, 6.1), (27.1, 6.8), (26.95, 7.6), (27.25, 8.5),
    (27.85, 2.9), (27.45, 3.6), (27.65, 4.3), (27.8, 5.0), (27.35, 5.7), (27.75, 6.4), (27.4, 7.1), (27.7, 7.9),
    (28.15, 3.2), (28.45, 3.9), (28.05, 4.6), (28.25, 5.3), (28.4, 6.0), (27.95, 6.7), (28.35, 7.4), (28.0, 8.3),
    (28.9, 3.6), (28.75, 4.3), (29.05, 5.0), (28.65, 5.7), (28.85, 6.4), (29.0, 7.1), (28.55, 7.9),
    (29.55, 4.0), (29.2, 4.8), (29.5, 5.6), (29.35, 6.4), (29.65, 7.2), (29.25, 8.0),
    (30.05, 4.6), (30.2, 5.5), (29.75, 6.4), (30.15, 7.3),
    (30.4, 5.2), (30.7, 6.2), (30.55, 7.2),
    (-1.45, 0.05), (2.85, 0.05), (5.4, 0.0), (6.1, 0.5), (7.6, 0.05), (8.2, 0.2),
    (9.0, 0.0), (10.0, 0.0), (11.3, 0.2), (12.2, 0.9), (12.4, 4.2), (12.5, 0.2),
    (12.9, 3.1), (13.1, 0.5), (13.5, 2.9), (13.7, 4.2), (13.9, 1.9), (14.3, 0.9),
    (14.4, 3.5), (15.0, 9.7), (15.2, 2.2), (15.5, 0.8), (15.8, 6.5), (15.95, 1.6),
    (16.3, 8.0), (16.4, 4.5), (16.6, 6.2), (16.7, 0.9), (17.3, 3.9), (17.5, 0.2),
    (17.9, 3.4), (18.1, 4.9), (18.4, 0.9), (18.7, 2.3), (18.8, 7.3), (19.0, 6.4),
    (19.2, 8.3), (19.3, 3.8), (19.6, 1.0), (19.9, 5.3), (20.4, 3.0), (20.5, 6.5),
    (20.8, 4.5), (21.1, 8.97), (21.3, 6.4), (21.6, 7.6), (22.0, 0.9), (22.8, 10.5),
    (23.4, 10.6), (23.7, 8.9), (24.2, 7.1), (24.8, 10.5), (25.2, 9.6), (26.0, 9.8),
    (26.4, 8.6), (27.0, 10.0), (27.2, 11.3), (27.5, 10.6), (28.1, 9.5), (28.8, 10.2),
    (29.1, 10.4), (29.9, 11.2), (30.2, 10.9), (30.96, 10.5), (31.6, 11.9), (31.3, 9.6),
    (31.9, 10.5), (32.5, 8.9), (32.9, 9.9), (33.1, 7.9), (34.0, 8.7), (34.5, 11.3),
    (32.2, 7.9), (31.4, 5.3), (31.0, 4.7), (30.7, 5.2), (29.8, 3.8), (29.6, 4.5),
    (28.9, 3.0), (27.6, 2.2), (26.9, 1.6), (26.1, 1.6), (25.2, 1.3), (24.3, 1.3),
    (23.4, 1.0), (22.5, 0.8), (21.0, 0.9), (20.0, 0.9),
    (19.0, 0.5), (18.0, 1.5), (17.0, 2.8), (16.0, 3.2), (17.5, 5.5), (18.5, 6.0),
    (20.0, 7.0), (21.5, 8.5), (22.2, 9.3), (23.0, 9.0), (24.0, 9.6), (25.5, 10.4),
    (26.8, 9.5), (28.5, 9.0), (29.6, 9.6), (30.5, 8.5), (31.0, 8.0), (31.6, 7.0),
    (32.0, 6.2), (30.6, 4.0), (29.2, 3.2), (28.0, 2.6), (26.5, 2.0), (24.8, 1.0),
    (23.0, 0.7), (21.5, 0.6), (20.8, 0.4), (15.5, 0.4), (14.0, 0.2), (13.0, 1.2),
    (11.5, 0.6),
]
dense_f = [
    (22.02, 1.5), (21.72, 2.1), (21.95, 2.7), (21.82, 3.3),
    (22.7, 1.6), (22.38, 2.2), (22.6, 2.8), (22.28, 3.5), (22.66, 4.2),
    (23.06, 1.7), (23.22, 2.4), (22.92, 3.0), (23.15, 3.7), (23.02, 4.4), (23.3, 5.1),
    (23.58, 1.9), (23.8, 2.6), (23.48, 3.3), (23.86, 4.0), (23.66, 4.7), (23.82, 5.4),
    (24.12, 2.1), (24.35, 2.8), (24.22, 3.5), (24.5, 4.2), (24.18, 4.9), (24.4, 5.6), (24.08, 6.3),
    (25.06, 2.3), (24.86, 3.0), (25.02, 3.7), (24.72, 4.4), (24.95, 5.1), (24.82, 5.8), (25.1, 6.5),
    (25.38, 2.5), (25.6, 3.2), (25.28, 3.9), (25.66, 4.6), (25.46, 5.3), (25.62, 6.0), (25.32, 6.7),
    (26.15, 2.7), (26.02, 3.4), (26.3, 4.1), (25.98, 4.8), (26.2, 5.5), (25.88, 6.2), (26.26, 6.9),
    (26.66, 3.0), (26.82, 3.7), (26.52, 4.4), (26.75, 5.1), (26.62, 5.8), (26.9, 6.5), (26.58, 7.2),
    (27.4, 3.3), (27.08, 4.0), (27.46, 4.7), (27.26, 5.4), (27.42, 6.1), (27.12, 6.8),
    (27.95, 3.6), (27.82, 4.3), (28.1, 5.0), (27.78, 5.7), (28.0, 6.4), (27.68, 7.1),
    (28.66, 4.0), (28.46, 4.7), (28.62, 5.4), (28.32, 6.1), (28.55, 6.8),
    (29.3, 4.4), (28.98, 5.1), (29.2, 5.8), (28.88, 6.5),
]

# ---- fitted curves ----
fit_x_a = [-42.8, -40, -37.5, -35, -32.5, -30, -28, -26, -24, -22, -21, -20, -19, -18, -17, -16.3]
fit_y_a = [0.0115, 0.016, 0.0215, 0.0285, 0.0375, 0.049, 0.061, 0.0775, 0.100, 0.130, 0.150,
           0.172, 0.198, 0.228, 0.262, 0.288]

fit_x_b = [-12.2, -10, -7.5, -5, -2.5, 0, 2.5, 5, 7.5, 10, 12.5, 14, 15.5, 16.25, 17, 17.8, 18.2, 18.55]
fit_y_b = [0.008, 0.0105, 0.014, 0.0185, 0.024, 0.031, 0.040, 0.052, 0.068, 0.091, 0.123,
           0.148, 0.180, 0.200, 0.222, 0.254, 0.274, 0.296]

fit_x_c = [-35.7, -32.5, -30, -27.5, -25, -22.5, -20, -17.5, -15, -12.5, -11, -10, -9, -8, -7.25,
           -6.5, -5.75, -5.0]
fit_y_c = [0.068, 0.10, 0.138, 0.186, 0.25, 0.34, 0.47, 0.64, 0.87, 1.18, 1.40, 1.58, 1.79, 2.02,
           2.22, 2.45, 2.67, 2.92]

fit_x_d = [-5.4, -2.5, 0, 2.5, 5, 7.5, 10, 12.5, 15, 17.5, 19, 20, 21.25, 22.5, 23.5, 24.5, 25.5, 26.55]
fit_y_d = [0.04, 0.06, 0.085, 0.121, 0.172, 0.245, 0.35, 0.50, 0.71, 0.97, 1.17, 1.33, 1.54, 1.78,
           2.0, 2.25, 2.50, 2.78]

fit_x_e = [-32.2, -30, -27.5, -25, -22.5, -20, -17.5, -15, -12.5, -10, -7.5, -6.25, -5, -3.75,
           -2.5, -1.25, 0, 0.6, 1.25]
fit_y_e = [0.15, 0.23, 0.33, 0.45, 0.63, 0.87, 1.21, 1.67, 2.31, 3.2, 4.43, 5.17, 6.0, 7.05,
           8.3, 9.9, 11.7, 12.7, 13.8]

fit_x_f = [-1.45, 2.5, 5, 7.5, 10, 12.5, 15, 17.5, 20, 22.5, 25, 26.25, 27.5, 28.75, 30, 31.25,
           32.5, 33.4, 34.3]
fit_y_f = [0.15, 0.253, 0.351, 0.486, 0.69, 0.93, 1.29, 1.79, 2.48, 3.44, 4.76, 5.6, 6.59, 7.75,
           9.14, 10.75, 12.66, 14.25, 16.0]

col_titles = [r'$D_n = 0.01mm$', r'$D_n = 0.1mm$']
# x ticks that the reference shows where the default locator differs
xticks_b = [-10, 0, 10]
xticks_c = [-30, -20, -10]

fig = plt.figure(figsize=(1027 / 144, 861 / 144), dpi=144)

# axes boxes measured on the reference
lefts = [0.0779, 0.5852]
bottoms = [0.6504, 0.3647, 0.0801]
w, h = 0.4226, 0.2381

panels = [
    (pts_a + dense_a, fit_x_a, fit_y_a), (pts_b + dense_b, fit_x_b, fit_y_b),
    (pts_c + dense_c, fit_x_c, fit_y_c), (pts_d + dense_d, fit_x_d, fit_y_d),
    (pts_e + dense_e, fit_x_e, fit_y_e), (pts_f + dense_f, fit_x_f, fit_y_f),
]

axes = []
for i, (pts, fx, fy) in enumerate(panels):
    row, col = divmod(i, 2)
    ax = fig.add_axes([lefts[col], bottoms[row], w, h])
    xy = np.array(pts)
    ax.scatter(xy[:, 0], xy[:, 1], s=6, color='#1f77b4', linewidths=0)
    ax.plot(fx, fy, color='blue', lw=2)
    if row == 0:
        ax.set_title(col_titles[col])
    axes.append(ax)

axes[1].set_xticks(xticks_b)
axes[2].set_xticks(xticks_c)

axes[2].set_ylabel(r'Ca $g/m^3$')
axes[4].set_xlabel('Zh (dBZ)')
axes[5].set_xlabel('Zh dBZ')

fig.suptitle(r'Clases: Ca(l,m,i) | $D_n$ vs $Z_h$', x=0.537, y=0.977, va='center')

fig.savefig('out.png', dpi=144)
